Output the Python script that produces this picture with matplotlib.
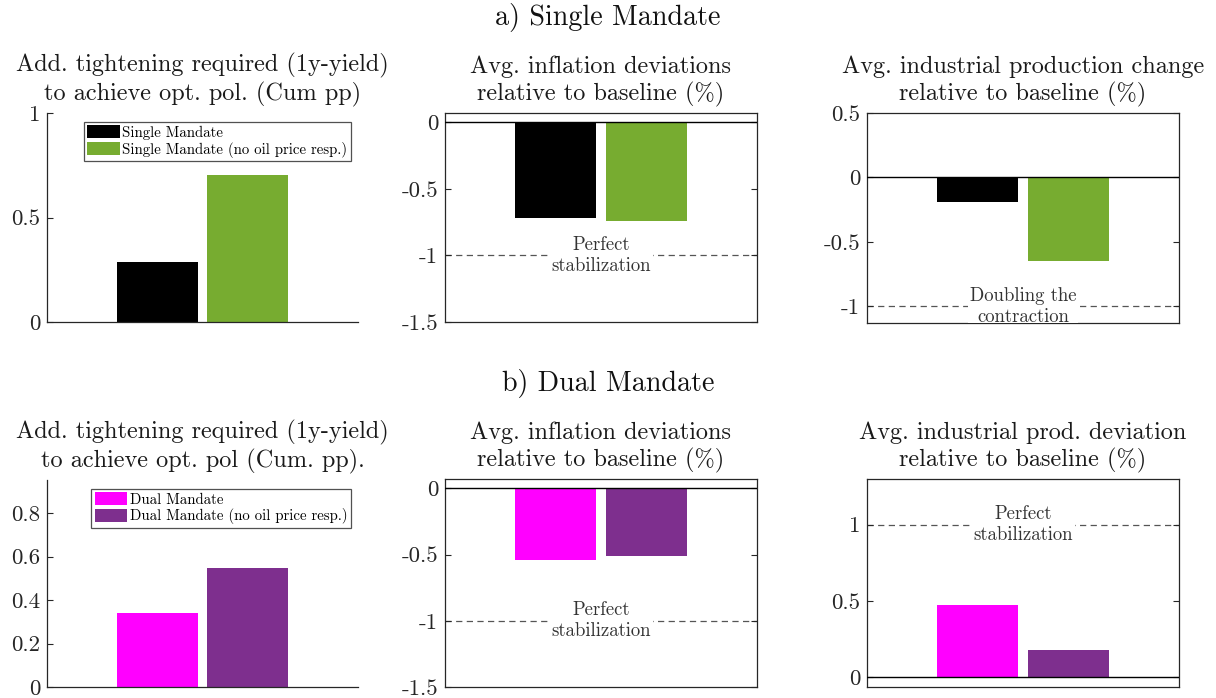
import matplotlib
matplotlib.use("Agg")
import matplotlib.pyplot as plt
from matplotlib.patches import Patch

plt.rcParams['font.family'] = ['cmr10', 'DejaVu Serif']
plt.rcParams['axes.formatter.use_mathtext'] = True
plt.rcParams['axes.unicode_minus'] = False

# ---------------- data ----------------
single_labels = ["Single Mandate", "Single Mandate (no oil price resp.)"]
dual_labels = ["Dual Mandate", "Dual Mandate (no oil price resp.)"]
single_colors = ["#000000", "#77AC30"]
dual_colors = ["#FF00FF", "#7E2F8E"]

single_tightening = [0.285, 0.705]
single_inflation = [-0.72, -0.74]
single_ip = [-0.19, -0.645]
dual_tightening = [0.34, 0.545]
dual_inflation = [-0.545, -0.51]
dual_ip = [0.475, 0.18]

titles_top = ["Add. tightening required (1y-yield)\nto achieve opt. pol. (Cum pp)",
              "Avg. inflation deviations\nrelative to baseline (%)",
              "Avg. industrial production change\nrelative to baseline (%)"]
titles_bot = ["Add. tightening required (1y-yield)\nto achieve opt. pol (Cum. pp).",
              "Avg. inflation deviations\nrelative to baseline (%)",
              "Avg. industrial prod. deviation\nrelative to baseline (%)"]

yticks_t1 = [0, 0.5, 1]
yticks_t2 = [-1.5, -1, -0.5, 0]
yticks_t3 = [-1, -0.5, 0, 0.5]
yticks_b1 = [0, 0.2, 0.4, 0.6, 0.8]
yticks_b2 = [-1.5, -1, -0.5, 0]
yticks_b3 = [0, 0.5, 1]

ref_t2, ref_t2_text = -1.0, "Perfect\nstabilization"
ref_t3, ref_t3_text = -1.0, "Doubling the\ncontraction"
ref_b2, ref_b2_text = -1.0, "Perfect\nstabilization"
ref_b3, ref_b3_text = 1.0, "Perfect\nstabilization"

# ---------------- layout ----------------
W, H = 1216, 698
fig = plt.figure(figsize=(W / 100, H / 100), dpi=100)

def add_ax(l, r, t, b):
    return fig.add_axes([l / W, 1 - b / H, (r - l) / W, (b - t) / H])

SPINE = "#262626"
TFS = 17.5
TICKFS = 16.5
xpos = [0.355, 0.645]
bw = 0.26

def fmt(v):
    return "%g" % v

def style(ax, yticks, ylim, box=True):
    ax.set_xlim(0, 1)
    ax.set_ylim(*ylim)
    ax.set_xticks([])
    ax.set_yticks(yticks)
    ax.set_yticklabels([fmt(v) for v in yticks])
    ax.tick_params(axis='y', direction='in', length=4, width=0.8, colors=SPINE,
                   labelsize=TICKFS, labelcolor="#262626", right=box, pad=5)
    for s in ax.spines.values():
        s.set_color(SPINE)
        s.set_linewidth(0.9)
    if not box:
        ax.spines['top'].set_visible(False)
        ax.spines['right'].set_visible(False)

def bars(ax, vals, colors):
    ax.bar(xpos, vals, width=bw, color=colors, edgecolor='none', zorder=2)

def zero_line(ax):
    ax.axhline(0, color='black', lw=1.0, zorder=3)

def ref_line(ax, y, txt):
    ax.axhline(y, color='#555555', lw=0.9, ls=(0, (5, 3.5)), zorder=1)
    ax.text(0.5, y, txt, transform=ax.get_yaxis_transform(), ha='center', va='center',
            fontsize=13.5, color='#333333', linespacing=1.2, zorder=4,
            bbox=dict(facecolor='white', edgecolor='none', pad=1.5), clip_on=True)

def title(ax, txt):
    ax.set_title(txt, fontsize=TFS, color='#1a1a1a', pad=9, linespacing=1.22)

def legend(ax, labels, colors):
    handles = [Patch(facecolor=c, edgecolor='none') for c in colors]
    lg = ax.legend(handles, labels, loc='upper right', bbox_to_anchor=(0.976, 0.957),
                   fontsize=10.7, frameon=True, fancybox=False, handlelength=2.2,
                   handleheight=0.95, handletextpad=0.15, labelspacing=0.12,
                   borderpad=0.22, borderaxespad=0.0)
    lg.get_frame().set_edgecolor('#262626')
    lg.get_frame().set_linewidth(0.9)

# top row
ax1 = add_ax(47, 358, 113, 322)
style(ax1, yticks_t1, (0, 1.0), box=False)
bars(ax1, single_tightening, single_colors)
title(ax1, titles_top[0])
legend(ax1, single_labels, single_colors)

ax2 = add_ax(445, 757, 113, 322)
style(ax2, yticks_t2, (-1.5, 0.07))
bars(ax2, single_inflation, single_colors)
zero_line(ax2)
ref_line(ax2, ref_t2, ref_t2_text)
title(ax2, titles_top[1])

ax3 = add_ax(867, 1179, 113, 323)
style(ax3, yticks_t3, (-1.13, 0.5))
bars(ax3, single_ip, single_colors)
zero_line(ax3)
ref_line(ax3, ref_t3, ref_t3_text)
title(ax3, titles_top[2])

# bottom row
ax4 = add_ax(47, 358, 480, 687)
style(ax4, yticks_b1, (0, 0.952), box=False)
bars(ax4, dual_tightening, dual_colors)
title(ax4, titles_bot[0])
legend(ax4, dual_labels, dual_colors)

ax5 = add_ax(445, 757, 479, 687)
style(ax5, yticks_b2, (-1.5, 0.07))
bars(ax5, dual_inflation, dual_colors)
zero_line(ax5)
ref_line(ax5, ref_b2, ref_b2_text)
title(ax5, titles_bot[1])

ax6 = add_ax(867, 1179, 479, 687)
style(ax6, yticks_b3, (-0.066, 1.30))
bars(ax6, dual_ip, dual_colors)
zero_line(ax6)
ref_line(ax6, ref_b3, ref_b3_text)
title(ax6, titles_bot[2])

fig.text(0.5, 1 - 17 / H, "a) Single Mandate", ha='center', va='center', fontsize=20.2, color='#111111')
fig.text(0.5, 1 - 383 / H, "b) Dual Mandate", ha='center', va='center', fontsize=20.2, color='#111111')

fig.savefig("out.png", dpi=100, facecolor='white')
